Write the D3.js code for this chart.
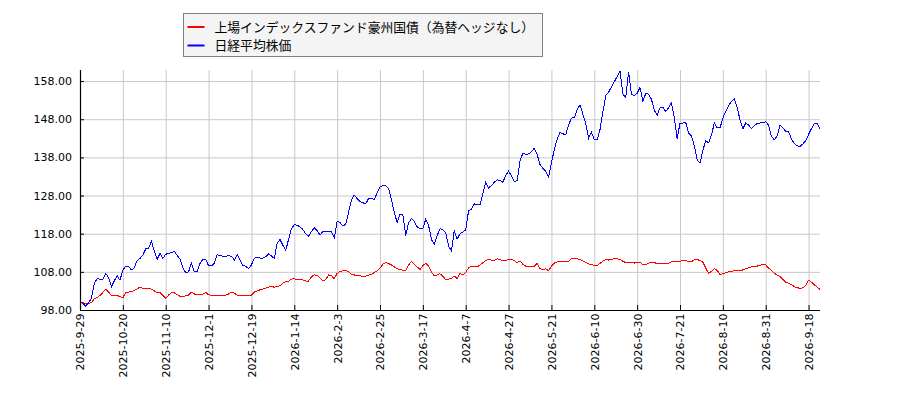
<!DOCTYPE html>
<html>
<head>
<meta charset="utf-8">
<script src="https://cdn.jsdelivr.net/npm/d3@7"></script>
<style>
  body { margin: 0; background: #fff; }
  svg { display: block; }
  .tick text { font-family: "DejaVu Sans", sans-serif; font-size: 11px; fill: #000; }
</style>
</head>
<body>
<svg id="chart"></svg>
<script>
// x軸ラベル（15営業日ごと）
const tickLabels = [
  "2025-9-29", "2025-10-20", "2025-11-10", "2025-12-1", "2025-12-19",
  "2026-1-14", "2026-2-3", "2026-2-25", "2026-3-17", "2026-4-7",
  "2026-4-27", "2026-5-21", "2026-6-10", "2026-6-30", "2026-7-21",
  "2026-8-10", "2026-8-31", "2026-9-18"
];

const seriesNames = ["上場インデックスファンド豪州国債（為替ヘッジなし）", "日経平均株価"];

// 上場インデックスファンド豪州国債（指数化）
const fundValues = [
  100.2, 99.9, 99.6, 99.8, 99.9, 101.0, 101.3, 101.8, 102.6, 103.4,
  102.7, 101.8, 101.9, 101.8, 101.5, 101.2, 102.6, 102.7, 102.8, 103.2,
  103.5, 104.0, 103.6, 103.6, 103.6, 103.5, 103.0, 102.6, 102.6, 101.8,
  101.1, 101.9, 102.6, 102.5, 102.0, 101.6, 101.6, 101.7, 101.9, 102.7,
  102.2, 102.1, 101.9, 102.2, 102.6, 102.0, 101.8, 101.7, 101.8, 101.7,
  101.7, 101.9, 102.2, 102.7, 102.4, 101.9, 101.8, 101.8, 101.9, 101.9,
  101.9, 102.7, 103.0, 103.3, 103.5, 103.7, 104.0,
  104.1, 104.0, 104.1, 104.4, 105.0, 105.4, 105.5, 106.1, 106.2, 106.0,
  105.9, 105.9, 105.6, 105.6, 106.7, 107.2, 107.1, 106.4, 105.7, 105.9,
  107.2, 107.0, 106.2, 107.6, 108.1, 108.3, 108.3, 108.1, 107.3, 107.2,
  106.9, 107.0, 106.8, 106.9, 107.1, 107.4, 107.8, 108.3, 109.0, 110.0,
  110.4, 110.2, 109.8, 109.3, 108.8, 108.6, 108.4, 108.3, 109.8, 110.8,
  110.0, 109.3, 108.6, 109.6, 110.3, 109.5, 108.0, 106.9, 107.2, 107.5,
  106.8, 106.0, 106.1,
  106.2, 106.9, 106.2, 107.6, 107.2, 107.9, 109.0, 109.5, 109.5, 109.3,
  109.8, 110.4, 111.0, 111.3, 111.1, 111.0, 111.4, 111.2, 111.0, 111.0,
  111.2, 111.3, 111.0, 110.4, 110.9, 110.0, 109.5, 109.5, 109.4, 109.5,
  110.2, 108.8, 108.6, 108.8, 108.3, 109.5, 110.3, 110.6, 110.7, 110.8,
  110.7, 110.8, 111.4, 111.5, 111.4, 111.2, 110.9, 110.5, 110.1, 109.9,
  109.7, 109.7, 110.2, 110.8, 111.2, 111.1, 111.3, 111.4, 111.4, 111.2,
  110.8, 110.4, 110.4, 110.4, 110.3, 110.5, 110.5,
  109.8, 109.9, 110.3, 110.4, 110.4, 110.2, 110.2, 110.3, 110.1, 110.3,
  110.6, 110.7, 110.7, 110.8, 110.9, 111.0, 110.6, 110.6, 111.2, 111.2,
  111.0, 110.5, 109.0, 107.6, 108.1, 108.8, 108.4, 107.3, 107.5, 107.8,
  108.0, 108.1, 108.3, 108.3, 108.3, 108.5, 108.8, 109.1, 109.3, 109.5,
  109.5, 109.7, 109.9, 109.8, 109.0, 108.4, 107.6, 107.2, 106.8, 106.0,
  105.3, 105.0, 104.7, 104.1, 103.9, 103.6, 103.8, 104.5, 105.8, 105.3,
  104.6, 104.0, 103.4
];

// 日経平均株価（指数化）
const nikkeiValues = [
  99.9, 99.8, 99.0, 99.9, 101.1, 105.0, 106.2, 106.1, 106.0, 107.6,
  106.5, 104.1, 105.6, 107.0, 105.8, 108.5, 109.5, 109.4, 108.5, 109.0,
  111.0, 111.5, 112.4, 114.0, 114.2, 116.0, 113.5, 111.3, 112.8, 111.5,
  112.6, 112.9, 113.0, 113.4, 112.3, 111.4, 109.0, 107.8, 108.0, 110.3,
  108.0, 108.0, 110.2, 111.3, 111.3, 109.6, 109.6, 110.2, 112.5, 112.3,
  112.1, 112.1, 112.2, 112.1, 111.1, 112.5, 111.1, 109.6, 109.5, 108.8,
  109.8, 111.6, 111.8, 111.6, 111.6, 112.0, 112.7,
  112.2, 111.5, 115.5, 116.5, 115.0, 113.6, 116.5, 119.3, 120.4, 120.2,
  119.8, 119.1, 118.0, 117.3, 118.6, 119.5, 118.8, 117.7, 118.5, 118.7,
  118.7, 118.6, 116.9, 121.3, 120.9, 120.0, 120.5, 123.6, 126.8, 128.1,
  127.2, 126.4, 126.1, 125.8, 127.2, 127.3, 126.9, 128.7, 130.2, 130.7,
  130.6, 129.8, 127.0, 123.5, 121.0, 123.0, 123.0, 117.5, 120.8, 122.0,
  121.2, 119.8, 119.3, 119.4, 121.8, 120.2, 116.5, 115.2, 117.5, 119.3,
  119.0, 118.2, 114.8,
  113.5, 118.8, 116.6, 118.0, 118.4, 119.0, 124.0, 124.4, 125.8, 125.6,
  125.6, 128.5, 131.5, 130.0, 130.6, 131.5, 132.1, 131.9, 131.5, 133.2,
  134.4, 133.2, 131.6, 131.9, 137.0, 139.1, 138.8, 138.9, 139.5, 140.4,
  138.8, 136.1, 135.1, 134.4, 132.8, 136.5, 140.1, 142.7, 144.5, 144.2,
  143.9, 146.5, 148.3, 148.4, 150.5, 151.8, 149.3, 147.0, 143.0, 144.6,
  142.6, 142.6, 145.3, 149.8, 154.2, 155.0, 156.5, 157.8, 159.2, 160.6,
  154.6, 153.6, 160.4, 154.5, 154.2, 154.8, 156.3,
  152.8, 154.7, 154.6, 153.2, 150.4, 149.0, 151.0, 151.2, 150.0, 151.0,
  152.3, 148.5, 142.8, 147.0, 147.0, 147.2, 144.3, 143.7, 141.0, 137.4,
  136.5, 139.8, 142.4, 141.8, 143.8, 147.0, 145.7, 145.7, 148.3, 150.1,
  151.6, 152.6, 153.3, 151.2, 147.8, 145.5, 147.0, 146.5, 145.5, 146.3,
  146.9, 147.0, 147.2, 147.3, 146.5, 143.5, 142.6, 143.6, 146.5, 145.8,
  144.8, 144.8, 142.8, 141.6, 141.0, 140.9, 141.5, 142.4, 144.0, 145.5,
  146.8, 146.8, 145.6
];

const yTicks = [98, 108, 118, 128, 138, 148, 158];

const width = 900;
const height = 400;
const margin = { top: 70, right: 80, bottom: 90, left: 80 };
const plotW = width - margin.left - margin.right;
const plotH = height - margin.top - margin.bottom;

const svg = d3.select("#chart").attr("width", width).attr("height", height);

const scaleX = d3.scaleLinear().domain([0, fundValues.length - 1]).range([0, plotW]);
const scaleY = d3.scaleLinear().domain([98, 160.9]).range([plotH, 0]);

const xTickIdx = tickLabels.map((d, i) => i * 15);

const g = svg.append("g").attr("transform", "translate(" + margin.left + "," + margin.top + ")");

// グリッド
g.append("g")
  .attr("class", "grid")
  .attr("transform", "translate(0," + plotH + ")")
  .call(d3.axisBottom(scaleX).tickValues(xTickIdx).tickSize(-plotH).tickFormat(""))
  .call((s) => s.select(".domain").remove());

g.append("g")
  .attr("class", "grid")
  .call(d3.axisLeft(scaleY).tickValues(yTicks).tickSize(-plotW).tickFormat(""))
  .call((s) => s.select(".domain").remove());

g.selectAll(".grid line").attr("stroke", "#c8c8c8").attr("stroke-width", 1);

// 系列（元画像はアンチエイリアスなし）
const line = d3.line().x((d, i) => scaleX(i)).y((d) => scaleY(d));

g.append("path")
  .datum(fundValues)
  .attr("fill", "none")
  .attr("stroke", "#ff0000")
  .attr("stroke-width", 1)
  .attr("shape-rendering", "crispEdges")
  .attr("d", line);

g.append("path")
  .datum(nikkeiValues)
  .attr("fill", "none")
  .attr("stroke", "#0000ff")
  .attr("stroke-width", 1)
  .attr("shape-rendering", "crispEdges")
  .attr("d", line);

// 軸（目盛りは内向き）
const yAxis = g.append("g")
  .call(d3.axisLeft(scaleY).tickValues(yTicks).tickSize(-4).tickPadding(8).tickFormat((d) => d.toFixed(2)));

const xAxis = g.append("g")
  .attr("transform", "translate(0," + plotH + ")")
  .call(d3.axisBottom(scaleX).tickValues(xTickIdx).tickSize(-5).tickFormat((d, i) => tickLabels[i]));

xAxis.selectAll("text")
  .attr("transform", "rotate(-90)")
  .attr("text-anchor", "end")
  .attr("x", -3.5)
  .attr("y", 0)
  .attr("dy", "0.35em");

svg.selectAll(".domain").attr("stroke", "#000").attr("stroke-width", 1.2).attr("d", null);
yAxis.select(".domain").attr("d", "M0.5,0V" + plotH);
xAxis.select(".domain").attr("d", "M0,0.5H" + plotW);
svg.selectAll(".tick line").filter(function () { return !this.closest(".grid"); }).attr("stroke", "#000");

// 凡例
const legend = svg.append("g").attr("transform", "translate(183.5,13.5)");
legend.append("rect")
  .attr("width", 359)
  .attr("height", 43)
  .attr("fill", "#f4f4f4")
  .attr("stroke", "#808080")
  .attr("stroke-width", 1);

const legendColors = ["#ff0000", "#0000ff"];
seriesNames.forEach((name, i) => {
  const yy = 13.5 + i * 18.5;
  legend.append("line")
    .attr("x1", 4).attr("x2", 21)
    .attr("y1", yy).attr("y2", yy)
    .attr("stroke", legendColors[i])
    .attr("stroke-width", 2);
  legend.append("text")
    .attr("x", 31)
    .attr("y", yy)
    .attr("dy", "0.36em")
    .style("font-family", "'Noto Sans CJK JP', 'DejaVu Sans', sans-serif")
    .style("font-size", "12.8px")
    .text(name);
});
</script>
</body>
</html>
